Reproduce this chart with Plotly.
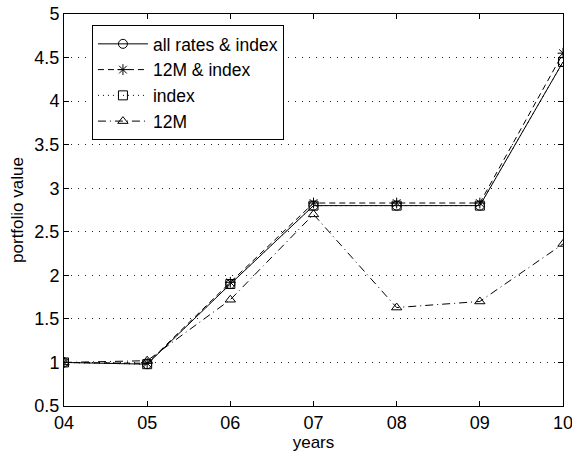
import plotly.graph_objects as go

years = [4, 5, 6, 7, 8, 9, 10]
year_labels = ["04", "05", "06", "07", "08", "09", "10"]
all_rates_index = [1.0, 0.98, 1.90, 2.80, 2.80, 2.80, 4.45]
m12_index = [1.0, 0.99, 1.92, 2.83, 2.83, 2.83, 4.55]
index_only = [1.0, 0.98, 1.90, 2.80, 2.80, 2.80, 4.45]
m12 = [1.0, 1.02, 1.72, 2.70, 1.63, 1.70, 2.36]
y_ticks = [0.5, 1, 1.5, 2, 2.5, 3, 3.5, 4, 4.5, 5]

series = [
    ("all rates & index", all_rates_index, "solid", "circle-open"),
    ("12M & index", m12_index, "6px,4px", "asterisk-open"),
    ("index", index_only, "1px,4px", "square-open"),
    ("12M", m12, "8px,4px,1px,4px", "triangle-up-open"),
]

FONT = "Liberation Sans, Arial, sans-serif"

fig = go.Figure()
for name, vals, dash, sym in series:
    fig.add_trace(go.Scatter(
        x=years, y=vals, name=name, mode="lines+markers",
        line=dict(color="black", width=1, dash=dash),
        marker=dict(symbol=sym, size=9, color="black",
                    line=dict(color="black", width=1)),
    ))

axis_common = dict(
    showline=True, linecolor="black", linewidth=1, mirror="ticks",
    ticks="inside", ticklen=5, tickcolor="black", zeroline=False,
    automargin=False, ticklabeloverflow="allow",
    tickfont=dict(family=FONT, size=18, color="black"),
)

fig.update_layout(
    width=572, height=453,
    margin=dict(l=64, r=9, t=14, b=47),
    paper_bgcolor="white", plot_bgcolor="white",
    font=dict(family=FONT, size=17, color="black"),
    xaxis=dict(range=[4, 10], tickvals=years, ticktext=year_labels,
               showgrid=False,
               title=dict(text="years", standoff=0, font=dict(size=17)),
               **axis_common),
    yaxis=dict(range=[0.5, 5], tickvals=y_ticks,
               showgrid=True, gridcolor="#222", gridwidth=1, griddash="1px,6px",
               title=dict(text="portfolio value", standoff=6, font=dict(size=17)),
               **axis_common),
    legend=dict(x=0.056, y=0.972, xanchor="left", yanchor="top",
                bgcolor="white", bordercolor="black", borderwidth=1,
                font=dict(size=17.5), tracegroupgap=0, itemwidth=50),
    showlegend=True,
)

fig.write_html("out.html")
